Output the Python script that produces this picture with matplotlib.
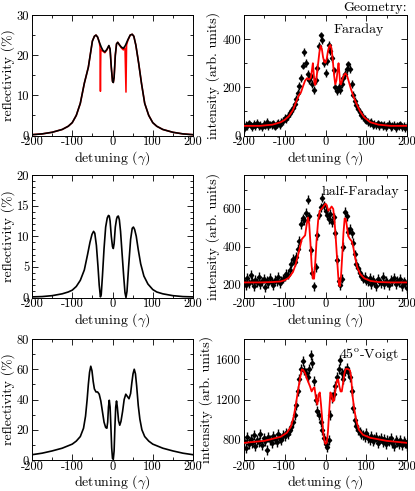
import matplotlib
matplotlib.use("Agg")
import matplotlib.pyplot as plt
from matplotlib.ticker import MultipleLocator

plt.rcParams["font.family"] = "cmr10"
plt.rcParams["mathtext.fontset"] = "cm"
plt.rcParams["axes.unicode_minus"] = False
plt.rcParams["axes.formatter.use_mathtext"] = False
plt.rcParams["font.size"] = 10

# ---- theory: reflectivity (%) vs detuning (gamma) ----
# Faraday
far_x = [-200, -175, -150, -125, -110, -100, -90, -80, -70, -60,
         -50, -45, -41, -37, -33, -28, -24, -19, -14, -9,
         -6, -3, 0, 2, 4, 7, 10, 13, 17, 22,
         27, 32, 38, 44, 49, 53, 58, 65, 72, 80,
         90, 100, 110, 125, 150, 175, 200]
far_y = [0.2, 0.4, 0.8, 1.5, 2.3, 3.2, 5, 8, 13, 17,
         23.5, 24.7, 25, 24.5, 23.3, 22, 21.2, 20.8, 21.4, 22.4,
         21.5, 17, 13.5, 13.2, 14.5, 20, 22.8, 23.2, 22.6, 22,
         21.7, 22.4, 23.8, 25, 25.2, 24.7, 22.5, 18, 13, 8,
         5, 3.2, 2.3, 1.5, 0.8, 0.4, 0.2]
far_red_x = [-200, -175, -150, -125, -110, -100, -90, -80, -70, -60,
             -50, -45, -41, -37, -33, -31, -30, -29, -28, -24,
             -19, -14, -9, -6, -3, 0, 2, 4, 7, 10,
             13, 17, 22, 27, 31, 33.5, 35, 38, 44, 49,
             53, 58, 65, 72, 80, 90, 100, 110, 125, 150,
             175, 200]
far_red_y = [0.2, 0.4, 0.8, 1.5, 2.3, 3.2, 5, 8, 13, 17,
             23.5, 24.7, 25, 24.5, 23.3, 22, 11, 21, 21.3, 21,
             20.6, 21.3, 22.3, 21.5, 17, 13.5, 13.2, 14.5, 20, 22.8,
             23.2, 22.6, 21.8, 21.3, 21.8, 10.8, 22.5, 23.6, 25, 25.2,
             24.7, 22.5, 18, 13, 8, 5, 3.2, 2.3, 1.5, 0.8,
             0.4, 0.2]

# half-Faraday
half_x = [-200, -175, -150, -125, -110, -100, -90, -80, -70, -62,
          -56, -51, -47, -44, -40, -36, -33, -30, -28, -25,
          -21, -17, -13, -10, -8, -6, -3, 0, 2, 4,
          7, 10, 12, 14.5, 17, 20, 24, 28, 31, 33.5,
          36, 40, 45, 49, 52, 55, 59, 64, 70, 78,
          88, 100, 110, 125, 150, 175, 200]
half_y = [0.1, 0.15, 0.3, 0.6, 0.9, 1.2, 1.8, 2.8, 4.5, 7,
          9, 10.3, 10.8, 10.5, 8.5, 5, 2, 0.1, 0.5, 3.5,
          8, 11.5, 13, 13.4, 13.3, 12.5, 10, 8.3, 8, 8.8,
          11.5, 12.8, 13.2, 13.3, 12.7, 10.8, 7, 3.3, 0.8, 0,
          1, 5, 9.5, 11.3, 11.5, 11.1, 10, 7.8, 5.5, 3.5,
          2.2, 1.3, 0.9, 0.6, 0.3, 0.15, 0.1]

# 45 deg Voigt
voigt_x = [-200, -175, -150, -125, -100, -90, -80, -72, -67, -63,
           -60, -57, -54, -51, -48, -45, -41, -37, -33, -29,
           -25, -21, -17, -14, -12, -10, -8, -6, -4, -2,
           0, 2, 4, 6, 8, 10, 12, 15, 18, 21,
           25, 29, 33, 37, 41, 45, 48, 51, 54, 57,
           60, 64, 68, 73, 80, 90, 100, 125, 150, 175,
           200]
voigt_y = [3.5, 4.5, 6, 7.8, 10.5, 12.5, 15.5, 21, 29, 40,
           50, 58, 62, 59, 52, 47, 45, 45, 43.5, 39,
           32, 25, 21.5, 21, 25, 35, 39.5, 35, 22, 8,
           1, 0.5, 6, 22, 35, 39, 35, 26, 23, 25.5,
           32, 40, 43.5, 42, 40.5, 44, 51, 57, 60, 57,
           49, 36, 27, 20, 15.5, 12.5, 10.5, 7.8, 6, 4.5,
           3.5]

# ---- measured intensity (arb. units), sampled every 4 gamma ----
det = list(range(-200, 201, 4))

far_meas = [25, 45, 38, 50, 42, 35, 48, 40, 52, 38, 44, 36, 47, 41, 55, 39, 46, 43, 50, 37, 48, 52, 45,
            55, 60, 72, 68, 80, 92, 100, 115, 130, 150, 175, 205, 240, 290, 345, 300, 255, 230, 245,
            215, 190, 230, 280, 370, 415, 395, 300,
            260, 310, 375, 350, 320, 270, 200, 185, 200, 190, 215, 240, 255, 275, 295, 275, 215, 170,
            145, 125, 112, 96, 85, 76, 68, 62, 56, 52, 55, 45, 48, 42, 50, 40, 46, 38, 44, 36, 42, 48,
            35, 40, 45, 30, 42, 38, 46, 35, 40, 32, 38]
half_meas = [215, 195, 235, 205, 250, 220, 190, 225, 210, 240, 200, 215, 230, 185, 220, 205, 235, 210,
             195, 225, 215, 240, 205, 220, 230,
             240, 255, 250, 275, 310, 335, 320, 345, 390, 430, 520, 550, 540, 580, 650, 560, 380, 260,
             190, 290, 460, 570, 610, 660, 620, 590, 570, 545, 575, 530, 555, 470, 330, 215, 195, 230,
             400, 585, 560, 480, 495, 470, 420, 360, 310, 285,
             260, 245, 230, 240, 220, 215, 235, 200, 225, 210, 190, 230, 215, 205, 240, 200, 220, 210,
             195, 225, 215, 235, 200, 220, 210, 230, 190, 215, 205, 180]
voigt_meas = [790, 720, 830, 760, 810, 770, 850, 740, 800, 780, 860, 750, 820, 790, 700, 830, 800, 770,
              840, 810, 780, 860, 820, 800, 850,
              840, 870, 860, 900, 930, 980, 1050, 1150, 1280, 1400, 1500, 1580, 1490, 1460, 1420, 1500,
              1640, 1560, 1380, 1200, 1090, 1050, 980, 900, 820, 760, 730, 800, 1050, 1220, 1250, 1330,
              1420, 1500, 1590, 1460, 1400, 1480, 1510, 1470, 1420, 1280, 1120, 1000, 940, 900,
              880, 860, 850, 830, 870, 820, 800, 840, 790, 810, 830, 770, 800, 820, 780, 810, 760, 800,
              790, 820, 770, 740, 800, 780, 760, 800, 750, 790, 770, 740]

# ---- fits to the measurements ----
far_fit_x = [-200, -160, -130, -110, -100, -90, -80, -72, -66, -60,
             -55, -50, -45, -40, -36, -33, -31, -29, -27, -25,
             -22, -18, -15, -12, -9, -6, -3, 0, 3, 6,
             9, 12, 15, 18, 21, 24, 27, 30, 32, 34,
             36, 38, 41, 45, 49, 53, 57, 62, 68, 75,
             85, 95, 110, 130, 160, 200]
far_fit_y = [40, 40, 45, 55, 65, 80, 105, 140, 165, 180,
             205, 228, 238, 232, 240, 275, 300, 260, 215, 210,
             240, 300, 345, 372, 360, 325, 305, 302, 318, 350,
             370, 376, 360, 310, 250, 212, 230, 275, 300, 260,
             215, 212, 230, 250, 258, 248, 225, 195, 165, 135,
             100, 75, 55, 45, 40, 40]
half_fit_x = [-200, -160, -130, -110, -100, -90, -80, -74, -68, -63,
              -58, -54, -50, -46, -43, -40, -37, -34, -31, -28,
              -25, -22, -18, -14, -10, -6, -3, 0, 3, 7,
              11, 15, 19, 22, 25, 28, 31, 33, 35, 38,
              41, 44, 47, 50, 53, 56, 60, 64, 68, 72,
              78, 85, 95, 110, 130, 160, 200]
half_fit_y = [210, 210, 212, 215, 222, 235, 265, 300, 350, 395,
              440, 450, 460, 520, 555, 520, 420, 300, 230, 230,
              320, 430, 540, 590, 600, 610, 620, 628, 620, 590,
              600, 613, 600, 540, 450, 350, 250, 200, 190, 240,
              350, 470, 550, 545, 500, 455, 440, 430, 400, 350,
              290, 255, 232, 218, 212, 210, 210]
voigt_fit_x = [-200, -150, -110, -95, -85, -78, -72, -67, -62, -58,
               -54, -50, -46, -42, -38, -34, -30, -27, -23, -20,
               -17, -14, -11, -8, -5, -2, 0, 3, 6, 9,
               12, 15, 18, 21, 24, 28, 31, 34, 37, 40,
               43, 46, 49, 52, 56, 60, 63, 66, 70, 75,
               82, 92, 110, 150, 200]
voigt_fit_y = [770, 790, 830, 870, 930, 1030, 1170, 1300, 1420, 1500,
               1490, 1460, 1410, 1370, 1330, 1280, 1310, 1320, 1200, 1150,
               1250, 1270, 1150, 1000, 850, 780, 760, 770, 880, 1080,
               1270, 1250, 1180, 1190, 1290, 1390, 1400, 1330, 1280, 1280,
               1360, 1450, 1500, 1505, 1500, 1490, 1420, 1250, 1120, 1000,
               900, 850, 820, 790, 770]

fig = plt.figure(figsize=(4.15, 4.91), dpi=100)

W, H = 415.0, 491.0
rows = [(15, 135.5), (175, 297.5), (339, 460)]
lefts = [(32, 193), (244, 407)]


def make_ax(r, c):
    top, bot = rows[r]
    x0, x1 = lefts[c]
    ax = fig.add_axes([x0 / W, 1 - bot / H, (x1 - x0) / W, (bot - top) / H])
    ax.set_xlim(-200, 200)
    ax.xaxis.set_major_locator(MultipleLocator(100))
    ax.xaxis.set_minor_locator(MultipleLocator(50))
    ax.tick_params(which="both", direction="in", top=True, right=True, labelsize=9, pad=2)
    ax.tick_params(axis="x", which="both", pad=0.5)
    ax.tick_params(which="major", length=4, width=0.6)
    ax.tick_params(which="minor", length=2, width=0.6)
    for s in ax.spines.values():
        s.set_linewidth(0.7)
    ax.set_xlabel(r"detuning ($\gamma$)", labelpad=0.5, fontsize=10)
    return ax


# left column: reflectivity
left_specs = [
    (far_x, far_y, (0, 30), 10, 5),
    (half_x, half_y, (0, 20), 5, 1),
    (voigt_x, voigt_y, (0, 80), 20, 10),
]
for r, (x, y, lim, maj, mnr) in enumerate(left_specs):
    ax = make_ax(r, 0)
    if r == 0:
        ax.plot(far_red_x, far_red_y, color="red", lw=1.1, zorder=2)
    ax.plot(x, y, color="black", lw=1.2, zorder=3)
    ax.set_ylim(*lim)
    ax.yaxis.set_major_locator(MultipleLocator(maj))
    ax.yaxis.set_minor_locator(MultipleLocator(mnr))
    ax.set_ylabel("reflectivity (%)", labelpad=1, fontsize=10)

# right column: measured intensity
right_specs = [
    (far_meas, far_fit_x, far_fit_y, (0, 500), 200, 100, 16, "Faraday", 0.86, 0.88),
    (half_meas, half_fit_x, half_fit_y, (130, 780), 200, 100, 24, "half-Faraday", 0.955, 0.86),
    (voigt_meas, voigt_fit_x, voigt_fit_y, (600, 1800), 400, 200, 50,
     r"45$^{\mathrm{o}}$-Voigt", 0.945, 0.875),
]
for r, (meas, fx, fy, lim, maj, mnr, err, label, tx, ty) in enumerate(right_specs):
    ax = make_ax(r, 1)
    ax.errorbar(det, meas, yerr=err, fmt="D", ms=2.2, color="black", mec="black",
                elinewidth=1.0, capsize=0, zorder=2)
    ax.plot(fx, fy, color="red", lw=1.3, zorder=3)
    ax.set_ylim(*lim)
    ax.yaxis.set_major_locator(MultipleLocator(maj))
    ax.yaxis.set_minor_locator(MultipleLocator(mnr))
    ax.set_ylabel("intensity (arb. units)", labelpad=2, fontsize=10)
    ax.text(tx, ty, label, transform=ax.transAxes, ha="right", va="center", fontsize=10)

fig.text(407 / W, 1 - 8 / H, "Geometry:", ha="right", va="center", fontsize=10)

fig.savefig("out.png", dpi=100)
